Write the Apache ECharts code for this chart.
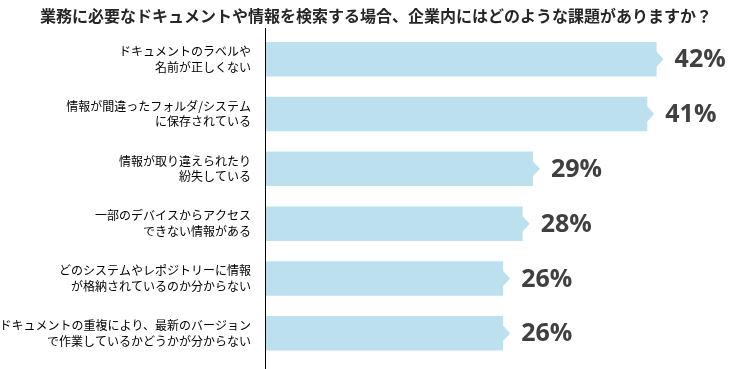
<!DOCTYPE html>
<html>
<head>
<meta charset="utf-8">
<script src="https://cdn.jsdelivr.net/npm/echarts@6/dist/echarts.min.js"></script>
<style>
html,body{margin:0;padding:0;background:#fff;}
#main{width:755px;height:369px;}
</style>
</head>
<body>
<div id="main"></div>
<script>
const titleText = '業務に必要なドキュメントや情報を検索する場合、企業内にはどのような課題がありますか？';
const categories = [
  'ドキュメントのラベルや\n名前が正しくない',
  '情報が間違ったフォルダ/システム\nに保存されている',
  '情報が取り違えられたり\n紛失している',
  '一部のデバイスからアクセス\nできない情報がある',
  'どのシステムやレポジトリーに情報\nが格納されているのか分からない',
  'ドキュメントの重複により、最新のバージョン\nで作業しているかどうかが分からない'
];
const values = [42, 41, 28.7, 27.6, 25.5, 25.5];

const chart = echarts.init(document.getElementById('main'), null, {renderer: 'canvas'});

function renderItem(params, api) {
  const v = api.value(0);
  const cat = api.value(1);
  const start = api.coord([0, cat]);
  const end = api.coord([v, cat]);
  const band = api.size([0, 1])[1];
  const h = band * 0.63;
  const x0 = start[0], x1 = end[0], yc = end[1];
  const y0 = yc - h / 2, y1 = yc + h / 2;
  const th = 7.5, tw = 7;
  return {
    type: 'group',
    children: [
      {
        type: 'polygon',
        shape: {points: [[x0, y0], [x1, y0], [x1, yc - th], [x1 + tw, yc], [x1, yc + th], [x1, y1], [x0, y1]]},
        style: {fill: '#bde0ef'}
      },
      {
        type: 'text',
        x: x1 + 18,
        y: yc + 1,
        style: {
          text: Math.round(v) + '%',
          fill: '#404040',
          font: 'bold 25px "Open Sans", sans-serif',
          textAlign: 'left',
          textVerticalAlign: 'middle'
        }
      }
    ]
  };
}

chart.setOption({
  animation: false,
  backgroundColor: '#ffffff',
  title: {
    text: titleText,
    left: 35,
    top: 3,
    textStyle: {fontFamily: '"Noto Sans CJK JP", sans-serif', fontSize: 16, fontWeight: 'bold', color: '#262626'}
  },
  grid: {left: 266, right: 24, top: 31.8, bottom: 8.3, containLabel: false, outerBoundsMode: 'none'},
  xAxis: {type: 'value', min: 0, max: 50, show: false},
  yAxis: {
    type: 'category',
    data: categories,
    inverse: true,
    axisLine: {show: false},
    axisTick: {show: false},
    splitLine: {show: false},
    axisLabel: {
      margin: 15,
      fontFamily: '"Noto Sans CJK JP", sans-serif',
      fontSize: 12,
      lineHeight: 15.5,
      color: '#000',
      align: 'right'
    }
  },
  graphic: [{
    type: 'line',
    shape: {x1: 265.5, y1: 28, x2: 265.5, y2: 369},
    style: {stroke: '#000', lineWidth: 1},
    z: 10
  }],
  series: [{
    type: 'custom',
    renderItem: renderItem,
    encode: {x: 0, y: 1},
    data: values.map((v, i) => [v, i])
  }]
});
</script>
</body>
</html>
